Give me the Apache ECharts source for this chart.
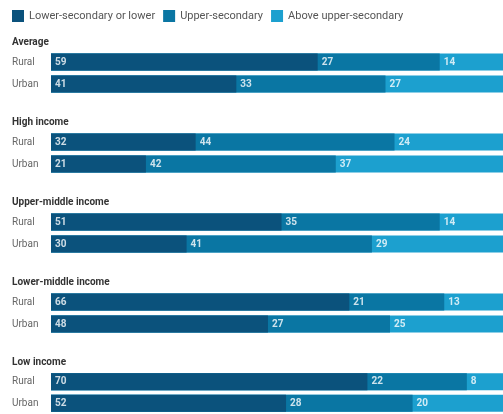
<!DOCTYPE html>
<html>
<head>
<meta charset="utf-8">
<script src="https://cdn.jsdelivr.net/npm/echarts@6/dist/echarts.min.js"></script>
<style>html,body{margin:0;padding:0;background:#fff}#c{width:503px;height:414px}</style>
</head>
<body>
<div id="c"></div>
<script>
const groups = ['Average', 'High income', 'Upper-middle income', 'Lower-middle income', 'Low income'];
const rows = ['Rural', 'Urban'];
const seriesNames = ['Lower-secondary or lower', 'Upper-secondary', 'Above upper-secondary'];
const lowerSecondary = [[59, 41], [32, 21], [51, 30], [66, 48], [70, 52]];
const upperSecondary = [[27, 33], [44, 42], [35, 41], [21, 27], [22, 28]];
const aboveUpper = [[14, 27], [24, 37], [14, 29], [13, 25], [8, 20]];

const colors = ['#0b527c', '#0a76a3', '#1ca0cf'];
const seriesData = [lowerSecondary, upperSecondary, aboveUpper];

const chart = echarts.init(document.getElementById('c'));
const grids = [], xAxes = [], yAxes = [], series = [], titles = [];
groups.forEach((g, i) => {
  const top = 51 + i * 80;
  grids.push({left: 51, right: 0, top: top, height: 44});
  titles.push({text: g, left: 7, top: top - 19,
    textStyle: {fontFamily: 'Roboto', fontSize: 10, fontWeight: 'bold', color: '#333'}});
  xAxes.push({gridIndex: i, type: 'value', min: 0, max: 100, show: false});
  yAxes.push({gridIndex: i, type: 'category', data: rows, inverse: true,
    axisLine: {show: false}, axisTick: {show: false},
    axisLabel: {align: 'left', margin: 39, fontFamily: 'Roboto', fontSize: 10, color: '#666'}});
  // coloured segments: cumulative (unstacked, overlapping) bars, longest first
  for (let s = 2; s >= 0; s--) {
    const cum = rows.map((r, k) => {
      let t = 0;
      for (let q = 0; q <= s; q++) t += seriesData[q][i][k];
      return t;
    });
    series.push({
      name: seriesNames[s], type: 'bar', stack: 'u' + i + '_' + s, barGap: '-100%',
      xAxisIndex: i, yAxisIndex: i, barWidth: 17, z: 1, silent: true,
      itemStyle: {color: colors[s]}, data: cum
    });
  }
  // value labels: stacked transparent bars
  seriesData.forEach((d, s) => {
    series.push({
      name: 'lbl' + s, type: 'bar', stack: 'g' + i, barGap: '-100%',
      xAxisIndex: i, yAxisIndex: i, barWidth: 17, z: 3,
      itemStyle: {color: 'rgba(0,0,0,0)'},
      label: {show: true, position: 'insideLeft', distance: 4,
        color: 'rgba(255,255,255,0.8)', fontFamily: 'Roboto', fontSize: 10, fontWeight: 'bold'},
      data: d[i]
    });
  });
});

chart.setOption({
  animation: false,
  title: titles,
  legend: {left: 7, top: 5, itemWidth: 12, itemHeight: 12, itemGap: 8,
    icon: 'rect', data: seriesNames,
    textStyle: {fontFamily: 'Roboto', fontSize: 11, color: '#555'}},
  grid: grids, xAxis: xAxes, yAxis: yAxes, series: series
});
</script>
</body>
</html>
